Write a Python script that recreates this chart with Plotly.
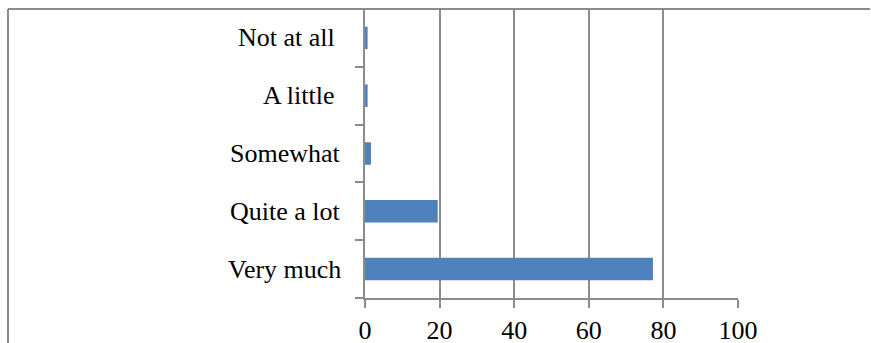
import plotly.graph_objects as go

# Survey responses (percent of respondents)
categories = ["Very much", "Quite a lot", "Somewhat", "A little\u00a0", "Not at all\u00a0"]
percentages = [77.2, 19.5, 1.6, 0.7, 0.7]
x_ticks = [0, 20, 40, 60, 80, 100]

GRID = "#8c8c8c"
BAR = "#4f81bd"
FONT = dict(family="Liberation Serif, Times New Roman, serif", size=26, color="#000000")

fig = go.Figure(
    go.Bar(
        x=percentages,
        y=categories,
        orientation="h",
        width=0.39,
        marker=dict(color=BAR, line=dict(width=0)),
    )
)

fig.update_layout(
    width=871,
    height=343,
    margin=dict(l=365, r=133, t=9, b=45),
    paper_bgcolor="white",
    plot_bgcolor="white",
    showlegend=False,
    font=FONT,
)

fig.update_xaxes(
    range=[0, 100],
    tickvals=x_ticks,
    ticktext=[str(v) for v in x_ticks],
    showgrid=True,
    gridcolor=GRID,
    gridwidth=2,
    showline=True,
    linecolor=GRID,
    linewidth=2,
    ticks="outside",
    ticklen=8,
    tickwidth=2,
    tickcolor=GRID,
    zeroline=False,
    tickfont=FONT,
    automargin=False,
    fixedrange=True,
)

fig.update_yaxes(
    categoryorder="array",
    categoryarray=categories,
    range=[-0.5, 4.5],
    showgrid=False,
    showline=True,
    linecolor=GRID,
    linewidth=2,
    ticks="outside",
    ticklen=8,
    tickwidth=2,
    tickcolor=GRID,
    tickmode="array",
    tickvals=[-0.5, 0.5, 1.5, 2.5, 3.5],
    ticktext=[""] * 5,
    zeroline=False,
    automargin=False,
    fixedrange=True,
)

# Category labels placed at the centre of each band
for cat in categories:
    fig.add_annotation(
        x=0, y=cat, xref="x", yref="y",
        text=cat, showarrow=False,
        xanchor="right", yanchor="middle",
        xshift=-22, font=FONT,
    )

# Chart-area frame (left and top edges)
fig.add_shape(type="line", xref="paper", yref="paper",
              x0=-357 / 373, x1=-357 / 373, y0=0 - 45 / 289, y1=1.0,
              line=dict(color=GRID, width=2))
fig.add_shape(type="line", xref="paper", yref="paper",
              x0=-357 / 373, x1=(870 - 365) / 373, y0=1.0, y1=1.0,
              line=dict(color=GRID, width=2))

fig.write_html("out.html")
